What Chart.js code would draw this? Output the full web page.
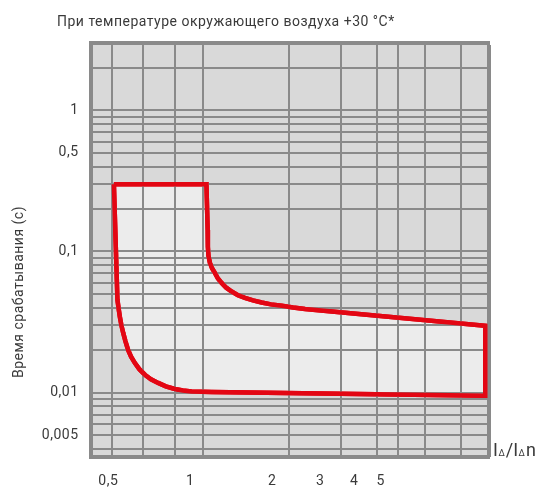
<!DOCTYPE html>
<html>
<head>
<meta charset="utf-8">
<script src="https://cdn.jsdelivr.net/npm/chart.js@4.4.0/dist/chart.umd.min.js"></script>
<style>
  html, body { margin: 0; padding: 0; background: #fff; }
</style>
</head>
<body>
<canvas id="trip" width="537" height="489"></canvas>
<script>
// tick labels and grid positions
const xTicks = [0.5, 1, 2, 3, 4, 5];
const xGrid = [0.515, 0.67, 0.88, 1.115, 2.31, 3.58, 4.84, 5.81, 7.3, 9.88];
const yGrid = [0.004, 0.005, 0.006, 0.007, 0.008, 0.009,
               0.01, 0.02, 0.03, 0.04, 0.05, 0.06, 0.07, 0.08, 0.09,
               0.1, 0.2, 0.3, 0.4, 0.5, 0.6, 0.7, 0.8, 0.9, 1, 2];
const yLabels = [0.005, 0.01, 0.1, 0.5, 1];
const xMin = 0.43, xMax = 12.5;
const yMin = 0.0035, yMax = 3;

// trip band outline (I/In, seconds), clockwise from top-left
const bandX = [0.524, 1.146, 1.158, 1.16, 1.166, 1.181, 1.203, 1.231, 1.263, 1.303, 1.355, 1.419,
               1.496, 1.587, 1.699, 1.828, 1.978, 2.166, 2.384, 2.638,
               12.11, 12.11,
               1.198, 1.103, 1.011, 0.939, 0.878, 0.813, 0.762, 0.717, 0.681, 0.650, 0.626, 0.606,
               0.591, 0.578, 0.567, 0.558, 0.551, 0.545, 0.540, 0.533, 0.524];
const bandY = [0.3, 0.3, 0.142, 0.108, 0.0929, 0.0829, 0.0758, 0.0705, 0.0644, 0.0599, 0.0554, 0.052,
               0.0491, 0.0469, 0.045, 0.0435, 0.0422, 0.0412, 0.0401, 0.0392,
               0.0298, 0.00952,
               0.0101, 0.01015, 0.0102, 0.01036, 0.01062, 0.01108, 0.01172, 0.01245, 0.0134, 0.01466, 0.0162, 0.01797,
               0.0201, 0.0231, 0.0265, 0.0302, 0.0346, 0.0399, 0.0454, 0.1026, 0.3];

const grey = '#8a8a8a';
const textColor = '#3a3a3a';
const comma = v => String(v).replace('.', ',');

const overlay = {
  id: 'overlay',
  afterDraw(chart) {
    const ctx = chart.ctx;
    const a = chart.chartArea;
    // red outline back on top of the grid
    ctx.save();
    ctx.beginPath();
    ctx.rect(a.left, a.top, a.right - a.left, a.bottom - a.top);
    ctx.clip();
    chart.getDatasetMeta(0).controller.draw();
    ctx.restore();

    ctx.save();
    ctx.fillStyle = textColor;
    ctx.textBaseline = 'middle';
    ctx.font = '14px Roboto';
    ctx.fillText('При температуре окружающего воздуха +30 °C*', 57, 22);

    ctx.save();
    ctx.translate(19, 292);
    ctx.rotate(-Math.PI / 2);
    ctx.textAlign = 'center';
    ctx.fillText('Время срабатывания (с)', 0, 0);
    ctx.restore();

    // I∆/I∆n with small subscripts
    ctx.letterSpacing = '0px';
    ctx.textBaseline = 'alphabetic';
    let x = 493;
    const base = 456;
    const parts = [['I', 18], ['Δ', 9], ['/I', 18], ['Δ', 9], ['n', 18]];
    parts.forEach(([t, s]) => {
      ctx.font = s + 'px Roboto';
      ctx.fillText(t, x, base);
      x += ctx.measureText(t).width + (s < 12 ? 1 : 0.5);
    });
    ctx.restore();
  }
};

new Chart(document.getElementById('trip'), {
  type: 'scatter',
  data: {
    datasets: [{
      data: bandX.map((x, i) => ({x: x, y: bandY[i]})),
      showLine: true,
      fill: 'shape',
      backgroundColor: '#ececec',
      borderColor: '#e30613',
      borderWidth: 4.5,
      borderJoinStyle: 'miter',
      pointRadius: 0,
      tension: 0
    }]
  },
  options: {
    responsive: false,
    animation: false,
    layout: {padding: {top: 43, right: 48, bottom: 0, left: 0}},
    plugins: {legend: {display: false}, tooltip: {enabled: false}},
    scales: {
      x: {
        type: 'logarithmic',
        position: 'bottom',
        min: xMin, max: xMax,
        afterBuildTicks: s => { s.ticks = xTicks.map(v => ({value: v})); },
        afterFit: s => { s.height = 32; },
        ticks: {
          callback: v => comma(v),
          autoSkip: false, maxRotation: 0, padding: 16,
          color: textColor, font: {family: 'Roboto', size: 14}
        },
        grid: {display: false, drawTicks: false},
        border: {display: true, width: 4, color: grey}
      },
      xg: {
        type: 'logarithmic',
        position: 'top',
        min: xMin, max: xMax,
        afterBuildTicks: s => { s.ticks = xGrid.concat([xMax]).map(v => ({value: v})); },
        ticks: {display: false},
        grid: {
          color: grey, drawTicks: false, z: 1,
          lineWidth: c => (c.tick && c.tick.value === xMax) ? 4 : 2
        },
        border: {display: true, width: 4, color: grey, z: 1}
      },
      y: {
        type: 'logarithmic',
        position: 'left',
        min: yMin, max: yMax,
        afterBuildTicks: s => { s.ticks = yGrid.map(v => ({value: v})); },
        afterFit: s => { s.width = 90.5; },
        ticks: {
          callback: v => yLabels.includes(v) ? comma(v) : '',
          autoSkip: false, padding: 12,
          color: textColor, font: {family: 'Roboto', size: 14}
        },
        grid: {color: grey, lineWidth: 2, drawTicks: false, z: 1},
        border: {display: true, width: 4, color: grey, z: 1}
      }
    }
  },
  plugins: [{
    id: 'plotBg',
    beforeDraw(chart) {
      const a = chart.chartArea;
      const ctx = chart.ctx;
      ctx.letterSpacing = '0.5px';
      ctx.save();
      ctx.fillStyle = '#d9d9d9';
      ctx.fillRect(a.left, a.top, a.right - a.left, a.bottom - a.top);
      ctx.restore();
    }
  }, overlay]
});
</script>
</body>
</html>
